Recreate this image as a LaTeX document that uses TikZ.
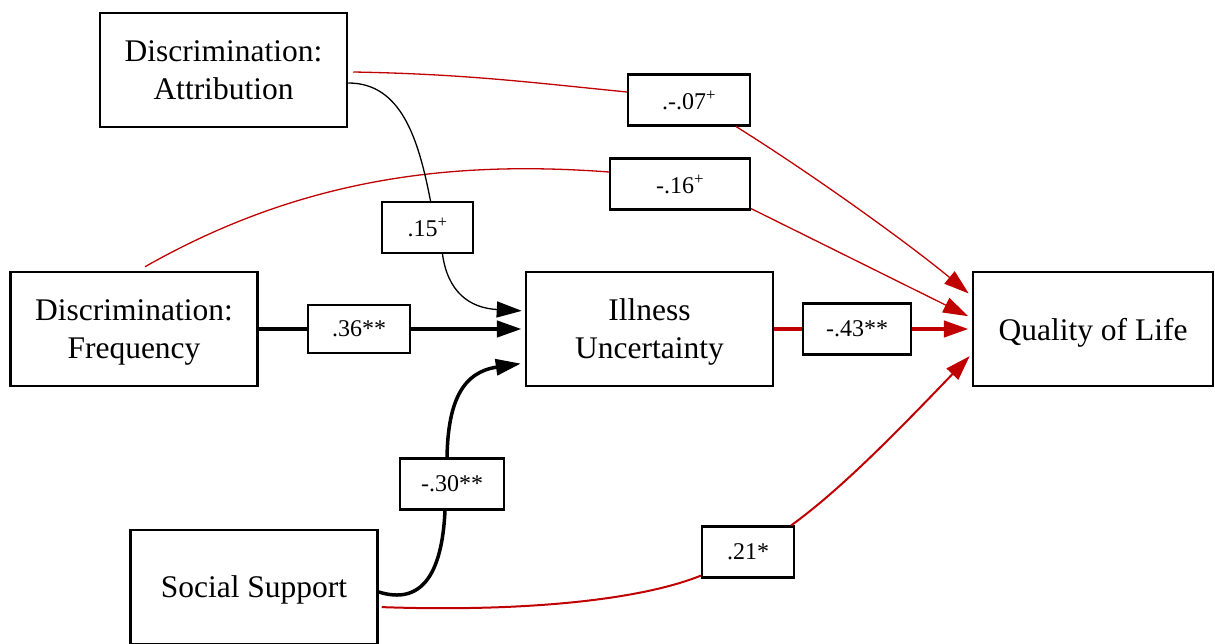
\documentclass[tikz,border=0pt]{standalone}
\usepackage{fontspec}
\setmainfont{Liberation Serif}
\usepackage{xcolor}
\usetikzlibrary{arrows.meta}
\definecolor{pathred}{RGB}{192,0,0}

\begin{document}
\begin{tikzpicture}[x=1pt,y=1pt,
  var/.style={draw, line width=2.5pt, minimum width=247pt, minimum height=114pt, inner sep=0pt, text depth=0pt, align=center, font=\fontsize{31.5}{38}\selectfont},
  coef/.style={draw, fill=white, line width=2.2pt, minimum height=51pt, inner sep=0pt, font=\fontsize{24}{28}\selectfont},
  tip/.style={-{Triangle[length=25pt,width=16pt]}},
  lw/.style={line width=1.3pt},
  hw/.style={line width=4.5pt}]
\useasboundingbox (0,0) rectangle (1215,-644);
\node [var] (attr) at (223.5,-70) {Discrimination:\\Attribution};
\node [var] (freq) at (134,-329) {Discrimination:\\Frequency};
\node [var] (soc) at (254,-587) {Social Support};
\node [var] (ill) at (649.5,-329) {Illness\\Uncertainty};
\node [var, minimum width=240pt] (qol) at (1093,-329) {Quality of Life};
\node [coef, minimum width=122pt] (l07) at (689,-100) {.-.07\textsuperscript{+}};
\node [coef, minimum width=140pt] (l16) at (680,-184) {-.16\textsuperscript{+}};
\node [coef, minimum width=91pt] (l15) at (427.5,-227.5) {.15\textsuperscript{+}};
\node [coef, minimum width=102pt, minimum height=48pt] (l36) at (359,-329) {.36**};
\node [coef, minimum width=108pt] (l43) at (857,-329) {-.43**};
\node [coef, minimum width=104pt] (l30) at (452,-484) {-.30**};
\node [coef, minimum width=92pt] (l21) at (748,-552) {.21*};
\draw [pathred, lw] ([xshift=5pt,yshift=-2pt]attr.east) .. controls +(110,-2) and +(-100,10) .. ([yshift=8pt]l07.west);
\draw [pathred, lw, tip, shorten >=4pt] ([xshift=-15pt]l07.south east) .. controls +(80,-50) and +(-60,50) .. ([yshift=33pt]qol.west);
\draw [pathred, lw] ([xshift=11pt,yshift=4pt]freq.north) .. controls +(155,88) and +(-160,12) .. ([yshift=12pt]l16.west);
\draw [pathred, lw, tip, shorten >=4pt] ([yshift=2pt]l16.south east) -- ([yshift=11pt]qol.west);
\draw [black, lw] ([yshift=-13pt]attr.east) .. controls +(53,0) and +(-12,62) .. ([xshift=3pt]l15.north);
\draw [black, lw, tip, shorten >=3pt] ([xshift=15pt]l15.south) .. controls +(5,-37) and +(-56,3) .. ([yshift=18pt]ill.west);
\draw [black, hw] (freq.east) -- (l36.west);
\draw [black, hw, tip, shorten >=3pt] (l36.east) -- (ill.west);
\draw [black, line width=3.5pt] ([yshift=-5pt]soc.east) .. controls +(42,-13) and +(-3,-65) .. ([xshift=-7pt]l30.south);
\draw [black, line width=3.5pt, tip, shorten >=4pt] ([xshift=-5pt]l30.north) .. controls +(1,58) and +(-61,-9) .. ([yshift=-34pt]ill.west);
\draw [pathred, line width=2pt, shorten <=3pt] ([yshift=-20pt]soc.east) .. controls +(142,-5) and +(-62,-25) .. ([yshift=3pt]l21.south west);
\draw [pathred, line width=2pt, tip, shorten >=3pt] ([xshift=-4pt]l21.north east) .. controls +(50,36) and +(-73,-76) .. ([yshift=-25pt]qol.west);
\draw [pathred, hw] (ill.east) -- (l43.west);
\draw [pathred, hw, tip, shorten >=3pt] (l43.east) -- (qol.west);
\end{tikzpicture}
\end{document}
